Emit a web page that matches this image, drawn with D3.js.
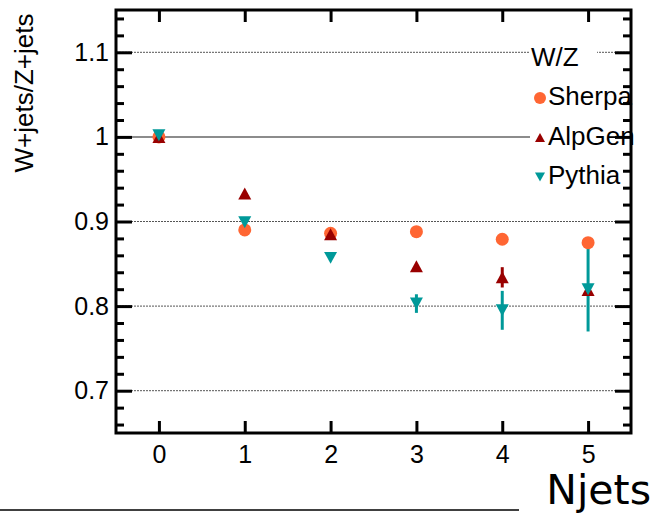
<!DOCTYPE html>
<html>
<head>
<meta charset="utf-8">
<script src="https://cdn.jsdelivr.net/npm/d3@7"></script>
<style>
  body { margin: 0; background: #fff; }
  svg { display: block; }
  text { font-family: "Liberation Sans", Arial, sans-serif; }
</style>
</head>
<body>
<svg id="chart" width="656" height="513"></svg>
<script>
// data
var njets = [0, 1, 2, 3, 4, 5];
var seriesNames = ["Sherpa", "AlpGen", "Pythia"];
var sherpa = [1.0, 0.890, 0.886, 0.888, 0.879, 0.875];
var alpgen = [1.0, 0.933, 0.885, 0.847, 0.834, 0.819];
var alpgenErr = [0, 0, 0, 0, 0.012, 0];
var pythia = [1.002, 0.899, 0.857, 0.803, 0.795, 0.820];
var pythiaErr = [0, 0, 0, 0.011, 0.023, 0.05];
var yMajor = [0.7, 0.8, 0.9, 1.0, 1.1];
var yMinor = [0.66, 0.68, 0.72, 0.74, 0.76, 0.78, 0.82, 0.84, 0.86, 0.88,
              0.92, 0.94, 0.96, 0.98, 1.02, 1.04, 1.06, 1.08, 1.12, 1.14];

function init() {
    var svg = d3.select('#chart');
    var left = 116, right = 631, top = 10, bottom = 433;
    var x = d3.scaleLinear().domain([-0.5, 5.5]).range([left, right]);
    var y = d3.scaleLinear().domain([0.65, 1.15]).range([bottom, top]);

    // grid lines
    svg.selectAll('.grid').data(yMajor).enter().append('line')
        .attr('class', 'grid')
        .attr('x1', left).attr('x2', right)
        .attr('y1', function (d) { return y(d); })
        .attr('y2', function (d) { return y(d); })
        .attr('stroke', function (d) { return d === 1.0 ? '#666' : '#555'; })
        .attr('stroke-width', function (d) { return d === 1.0 ? 1.5 : 1; })
        .attr('stroke-dasharray', function (d) { return d === 1.0 ? null : '2,1'; });

    // legend background (covers grid lines)
    svg.append('rect').attr('x', 530).attr('y', 42).attr('width', 67).attr('height', 30).attr('fill', '#fff');
    svg.append('rect').attr('x', 530).attr('y', 72).attr('width', 101).attr('height', 122).attr('fill', '#fff');

    // axes
    function styleAxis(g) {
        g.select('.domain').remove();
        g.selectAll('.tick line').attr('stroke', '#000').attr('stroke-width', 3);
        g.selectAll('text').attr('fill', '#000').style('font-size', '25px')
            .style('font-family', '"Liberation Sans", Arial, sans-serif');
    }
    svg.append('g').attr('transform', 'translate(' + left + ',0)')
        .call(d3.axisLeft(y).tickValues(yMajor).tickSize(-16).tickPadding(7).tickFormat(d3.format('')))
        .call(styleAxis);
    svg.append('g').attr('transform', 'translate(' + left + ',0)')
        .call(d3.axisLeft(y).tickValues(yMinor).tickSize(-8).tickFormat(''))
        .call(styleAxis);
    svg.append('g').attr('transform', 'translate(' + right + ',0)')
        .call(d3.axisRight(y).tickValues(yMajor).tickSize(-16).tickFormat(''))
        .call(styleAxis);
    svg.append('g').attr('transform', 'translate(' + right + ',0)')
        .call(d3.axisRight(y).tickValues(yMinor).tickSize(-8).tickFormat(''))
        .call(styleAxis);
    svg.append('g').attr('transform', 'translate(0,' + bottom + ')')
        .call(d3.axisBottom(x).tickValues(njets).tickSize(-12).tickPadding(12).tickFormat(d3.format('d')))
        .call(styleAxis);
    svg.append('g').attr('transform', 'translate(0,' + top + ')')
        .call(d3.axisTop(x).tickValues(njets).tickSize(-12).tickFormat(''))
        .call(styleAxis);

    // frame
    svg.append('rect').attr('x', left).attr('y', top)
        .attr('width', right - left).attr('height', bottom - top)
        .attr('fill', 'none').attr('stroke', '#000').attr('stroke-width', 3);

    var colors = ['#ff6633', '#990000', '#009999'];
    var circle = d3.symbol().type(d3.symbolCircle).size(Math.PI * 6.5 * 6.5);
    var triUp = function (s) {
        var h = s * 0.92;
        return 'M0,' + (-h / 2) + 'L' + (s / 2) + ',' + (h / 2) + 'L' + (-s / 2) + ',' + (h / 2) + 'Z';
    };
    var triDown = function (s) {
        var h = s * 0.92;
        return 'M0,' + (h / 2) + 'L' + (s / 2) + ',' + (-h / 2) + 'L' + (-s / 2) + ',' + (-h / 2) + 'Z';
    };

    // error bars
    function errBars(vals, errs, color) {
        svg.append('g').selectAll('line').data(njets.filter(function (d, i) { return errs[i] > 0; }))
            .enter().append('line')
            .attr('x1', function (d) { return x(d); })
            .attr('x2', function (d) { return x(d); })
            .attr('y1', function (d) { return y(vals[d] + errs[d]); })
            .attr('y2', function (d) { return y(vals[d] - errs[d]); })
            .attr('stroke', color).attr('stroke-width', 3);
    }
    errBars(alpgen, alpgenErr, colors[1]);
    errBars(pythia, pythiaErr, colors[2]);

    // markers
    svg.append('g').selectAll('path').data(njets).enter().append('path')
        .attr('d', circle)
        .attr('transform', function (d, i) { return 'translate(' + x(d) + ',' + y(sherpa[i]) + ')'; })
        .attr('fill', colors[0]);
    svg.append('g').selectAll('path').data(njets).enter().append('path')
        .attr('d', triUp(13))
        .attr('transform', function (d, i) { return 'translate(' + x(d) + ',' + y(alpgen[i]) + ')'; })
        .attr('fill', colors[1]);
    svg.append('g').selectAll('path').data(njets).enter().append('path')
        .attr('d', triDown(13))
        .attr('transform', function (d, i) { return 'translate(' + x(d) + ',' + y(pythia[i]) + ')'; })
        .attr('fill', colors[2]);

    // legend
    svg.append('text').attr('x', 531).attr('y', 66).text('W/Z')
        .style('font-size', '26px').attr('fill', '#000');
    var legendShapes = [d3.symbol().type(d3.symbolCircle).size(Math.PI * 6 * 6)(), triUp(10), triDown(10)];
    var leg = svg.append('g').selectAll('g').data(seriesNames).enter().append('g')
        .attr('transform', function (d, i) { return 'translate(540,' + (98 + i * 39.5) + ')'; });
    leg.append('path').attr('d', function (d, i) { return legendShapes[i]; })
        .attr('fill', function (d, i) { return colors[i]; });
    leg.append('text').attr('x', 8).attr('y', 7).text(function (d) { return d; })
        .style('font-size', '26px').attr('fill', '#000');

    // axis titles
    svg.append('text').attr('transform', 'translate(33,93) rotate(-90)')
        .attr('text-anchor', 'middle').text('W+jets/Z+jets')
        .style('font-size', '26px').attr('fill', '#000');
    svg.append('text').attr('x', 651).attr('y', 504).attr('text-anchor', 'end')
        .text('Njets').style('font-family', '"DejaVu Sans", sans-serif')
        .style('font-size', '41px').attr('fill', '#000');

    // line at the bottom
    svg.append('line').attr('x1', 0).attr('x2', 519).attr('y1', 510).attr('y2', 510)
        .attr('stroke', '#000').attr('stroke-width', 1.5);
}
init();
</script>
</body>
</html>
